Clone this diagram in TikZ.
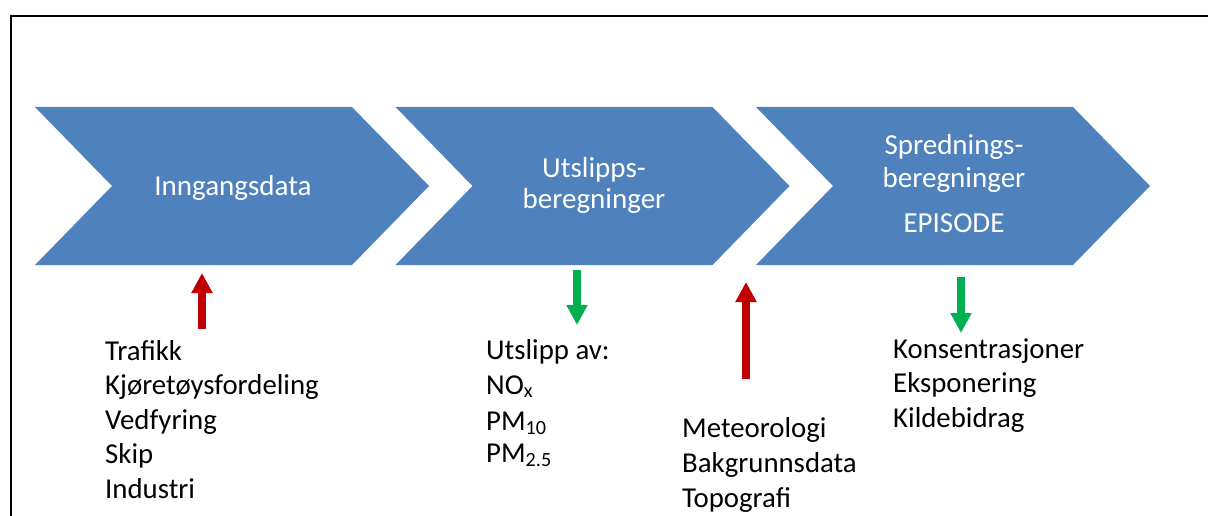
\documentclass[tikz,border=0pt]{standalone}
\usepackage{fontspec}
\setmainfont{Carlito}
\usetikzlibrary{arrows.meta}
\definecolor{chevblue}{HTML}{4F81BD}
\definecolor{arrred}{HTML}{C00000}
\definecolor{arrgreen}{HTML}{00B050}
\begin{document}
\begin{tikzpicture}[x=1pt,y=-1pt,
  chev/.style={fill=chevblue},
  chevtext/.style={text=white, font=\fontsize{29}{32}\selectfont, inner sep=0, anchor=base},
  listtext/.style={font=\fontsize{28.8}{32}\selectfont, inner sep=0, anchor=base west},
  redarrow/.style={draw=arrred, line width=8pt, -{Triangle[length=20pt,width=20pt]}},
  greenarrow/.style={draw=arrgreen, line width=8pt, -{Triangle[length=20pt,width=20pt]}}]
\useasboundingbox (0,0) rectangle (1208,516);
\draw[line width=2pt] (11,517) -- (11,16) -- (1209,16);
% chevrons
\foreach \x/\n in {35/c1, 395.5/c2, 756/c3}{
  \fill[chev] (\x,107) -- (\x+317,107) -- (\x+394,186) -- (\x+317,265) -- (\x,265) -- (\x+77,186) -- cycle;
  \coordinate (\n) at (\x+197,186);
}
% chevron texts
\node[chevtext] (t1) at (233,195) {Inngangsdata};
\node[chevtext] (t2a) at (594,178) {Utslipps-};
\node[chevtext] (t2b) at (594,208) {beregninger};
\node[chevtext] (t3a) at (954,155) {Sprednings-};
\node[chevtext] (t3b) at (954,188) {beregninger};
\node[chevtext] (t3c) at (954,233) {EPISODE};
% arrows
\coordinate (r1s) at (202,329); \coordinate (r1e) at (202,273);
\coordinate (g1s) at (577,270); \coordinate (g1e) at (577,325);
\coordinate (r2s) at (746,379); \coordinate (r2e) at (746,282);
\coordinate (g2s) at (961,277); \coordinate (g2e) at (961,333);
\draw[redarrow] (r1s) -- (r1e);
\draw[greenarrow] (g1s) -- (g1e);
\draw[redarrow] (r2s) -- (r2e);
\draw[greenarrow] (g2s) -- (g2e);
% lists
\foreach \t [count=\i] in {Trafikk, Kjøretøysfordeling, Vedfyring, Skip, Industri}
  \node[listtext] (a\i) at (105, 360+34.5*\i-34.5) {\t};
\node[listtext] (b1) at (486,359) {Utslipp av:};
\node[listtext] (b2) at (486,394) {NO\textsubscript{x}};
\node[listtext] (b3) at (486,430) {PM\textsubscript{10}};
\node[listtext] (b4) at (486,462) {PM\textsubscript{2.5}};
\foreach \t [count=\i] in {Meteorologi, Bakgrunnsdata, Topografi}
  \node[listtext] (c\i) at (682, 437+35*\i-35) {\t};
\foreach \t [count=\i] in {Konsentrasjoner, Eksponering, Kildebidrag}
  \node[listtext] (d\i) at (893, 358+34.5*\i-34.5) {\t};
\end{tikzpicture}
\end{document}
